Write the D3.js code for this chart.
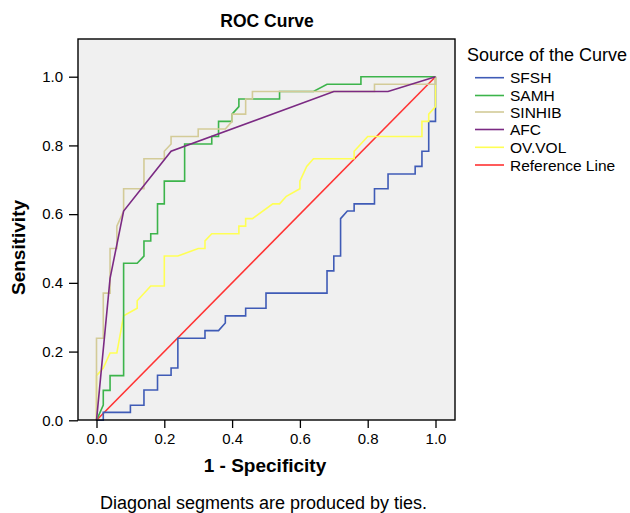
<!DOCTYPE html>
<html>
<head>
<meta charset="utf-8">
<script src="https://cdn.jsdelivr.net/npm/d3@7"></script>
<style>
  body { margin: 0; background: #fff; }
  svg text { font-family: "Liberation Sans", Arial, sans-serif; fill: #000; }
</style>
</head>
<body>
<svg width="630" height="513"></svg>
<script>
/* ROC curve data: [1 - specificity, sensitivity] */
var sfsh = [[0,0],[0.02,0],[0.02,0.023],[0.10,0.023],[0.10,0.044],[0.14,0.044],[0.14,0.088],[0.18,0.088],[0.18,0.131],[0.22,0.131],[0.22,0.152],[0.24,0.152],[0.24,0.239],[0.32,0.239],[0.32,0.261],[0.36,0.261],[0.38,0.283],[0.38,0.304],[0.44,0.304],[0.44,0.326],[0.50,0.326],[0.50,0.370],[0.68,0.370],[0.68,0.435],[0.70,0.435],[0.70,0.478],[0.72,0.478],[0.72,0.587],[0.74,0.609],[0.76,0.609],[0.76,0.630],[0.82,0.630],[0.82,0.674],[0.86,0.674],[0.86,0.717],[0.94,0.717],[0.94,0.739],[0.96,0.739],[0.96,0.783],[0.98,0.783],[0.98,0.870],[1,0.870],[1,1]];
var samh = [[0,0],[0.02,0.044],[0.02,0.087],[0.04,0.087],[0.04,0.130],[0.08,0.130],[0.08,0.457],[0.12,0.457],[0.14,0.478],[0.14,0.522],[0.16,0.522],[0.16,0.543],[0.18,0.543],[0.18,0.630],[0.20,0.630],[0.20,0.696],[0.26,0.696],[0.26,0.804],[0.34,0.804],[0.34,0.826],[0.36,0.826],[0.36,0.870],[0.40,0.870],[0.40,0.891],[0.42,0.913],[0.42,0.935],[0.54,0.935],[0.54,0.957],[0.64,0.957],[0.68,0.978],[0.78,0.978],[0.78,1],[1,1]];
var sinhib = [[0,0],[0,0.239],[0.02,0.239],[0.02,0.370],[0.04,0.370],[0.04,0.500],[0.06,0.500],[0.06,0.565],[0.08,0.609],[0.08,0.674],[0.14,0.674],[0.14,0.761],[0.20,0.761],[0.20,0.783],[0.22,0.804],[0.22,0.826],[0.30,0.826],[0.30,0.848],[0.38,0.848],[0.40,0.870],[0.40,0.891],[0.44,0.891],[0.44,0.935],[0.46,0.935],[0.46,0.957],[0.82,0.957],[0.82,0.978],[1,0.978],[1,1]];
var afc = [[0,0],[0.04,0.413],[0.08,0.609],[0.22,0.783],[0.70,0.957],[0.86,0.957],[1,1]];
var ovvol = [[0,0],[0,0.130],[0.02,0.152],[0.04,0.196],[0.06,0.196],[0.08,0.304],[0.12,0.326],[0.12,0.348],[0.16,0.391],[0.20,0.391],[0.20,0.478],[0.24,0.478],[0.30,0.500],[0.32,0.500],[0.32,0.522],[0.34,0.543],[0.42,0.543],[0.42,0.565],[0.44,0.565],[0.44,0.587],[0.46,0.587],[0.52,0.630],[0.54,0.630],[0.56,0.652],[0.60,0.674],[0.60,0.696],[0.62,0.739],[0.64,0.761],[0.76,0.761],[0.76,0.783],[0.80,0.826],[0.96,0.826],[0.96,0.870],[0.98,0.870],[0.98,0.891],[1,0.913],[1,1]];
var refLine = [[0,0],[1,1]];

var seriesNames = ["SFSH", "SAMH", "SINHIB", "AFC", "OV.VOL", "Reference Line"];
var seriesColors = ["#3f5bb6", "#3cb44b", "#d3cb98", "#7b2a83", "#ffff55", "#ff3333"];
var tickValues = [0, 0.2, 0.4, 0.6, 0.8, 1.0];

var svg = d3.select("svg");

var x = d3.scaleLinear().domain([0, 1]).range([96.5, 435.5]),
    y = d3.scaleLinear().domain([0, 1]).range([420.3, 76.7]);

var plot = {left: 78, top: 39, right: 455, bottom: 420};

// plot background
svg.append("rect")
    .attr("x", plot.left)
    .attr("y", plot.top)
    .attr("width", plot.right - plot.left)
    .attr("height", plot.bottom - plot.top)
    .attr("fill", "#f0f0f0");

var line = d3.line()
    .x(function (d) { return x(d[0]); })
    .y(function (d) { return y(d[1]); });

var allSeries = [sfsh, samh, sinhib, afc, ovvol, refLine];
// draw order: reference first, then curves
var order = [5, 0, 4, 1, 2, 3];
order.forEach(function (i) {
    svg.append("path")
        .datum(allSeries[i])
        .attr("fill", "none")
        .attr("stroke", seriesColors[i])
        .attr("stroke-width", 1.6)
        .attr("d", line);
});

// frame
svg.append("rect")
    .attr("x", plot.left)
    .attr("y", plot.top)
    .attr("width", plot.right - plot.left)
    .attr("height", plot.bottom - plot.top)
    .attr("fill", "none")
    .attr("stroke", "#000")
    .attr("stroke-width", 1.4);

// axes
var xAxis = svg.append("g")
    .attr("transform", "translate(0," + plot.bottom + ")")
    .call(d3.axisBottom(x).tickValues(tickValues).tickFormat(d3.format(".1f")).tickSize(8).tickPadding(5.5));
var yAxis = svg.append("g")
    .attr("transform", "translate(" + plot.left + ",0)")
    .call(d3.axisLeft(y).tickValues(tickValues).tickFormat(d3.format(".1f")).tickSize(9).tickPadding(6));

[xAxis, yAxis].forEach(function (a) {
    a.select(".domain").remove();
    a.selectAll("line").attr("stroke", "#000").attr("stroke-width", 1.3);
    a.selectAll("text").style("font-size", "15px").style("font-family", "Liberation Sans, Arial, sans-serif").attr("fill", "#000");
});

// titles
svg.append("text")
    .attr("x", 267)
    .attr("y", 26.5)
    .attr("text-anchor", "middle")
    .style("font-size", "17.5px")
    .style("font-weight", "bold")
    .text("ROC Curve");

svg.append("text")
    .attr("x", 265)
    .attr("y", 472)
    .attr("text-anchor", "middle")
    .style("font-size", "19px")
    .style("font-weight", "bold")
    .text("1 - Specificity");

svg.append("text")
    .attr("transform", "translate(25,247.5)rotate(-90)")
    .attr("text-anchor", "middle")
    .style("font-size", "19px")
    .style("font-weight", "bold")
    .text("Sensitivity");

svg.append("text")
    .attr("x", 263.5)
    .attr("y", 509)
    .attr("text-anchor", "middle")
    .style("font-size", "18px")
    .text("Diagonal segments are produced by ties.");

// legend
var legend = svg.append("g");
legend.append("text")
    .attr("x", 467)
    .attr("y", 60.5)
    .style("font-size", "18px")
    .text("Source of the Curve");

var legendY = [77.7, 95.5, 112, 129.5, 147.3, 165];
seriesNames.forEach(function (name, i) {
    legend.append("line")
        .attr("x1", 475).attr("x2", 504)
        .attr("y1", legendY[i]).attr("y2", legendY[i])
        .attr("stroke", seriesColors[i])
        .attr("stroke-width", 1.6);
    legend.append("text")
        .attr("x", 510)
        .attr("y", legendY[i] + 5.5)
        .style("font-size", "15.5px")
        .text(name);
});
</script>
</body>
</html>
